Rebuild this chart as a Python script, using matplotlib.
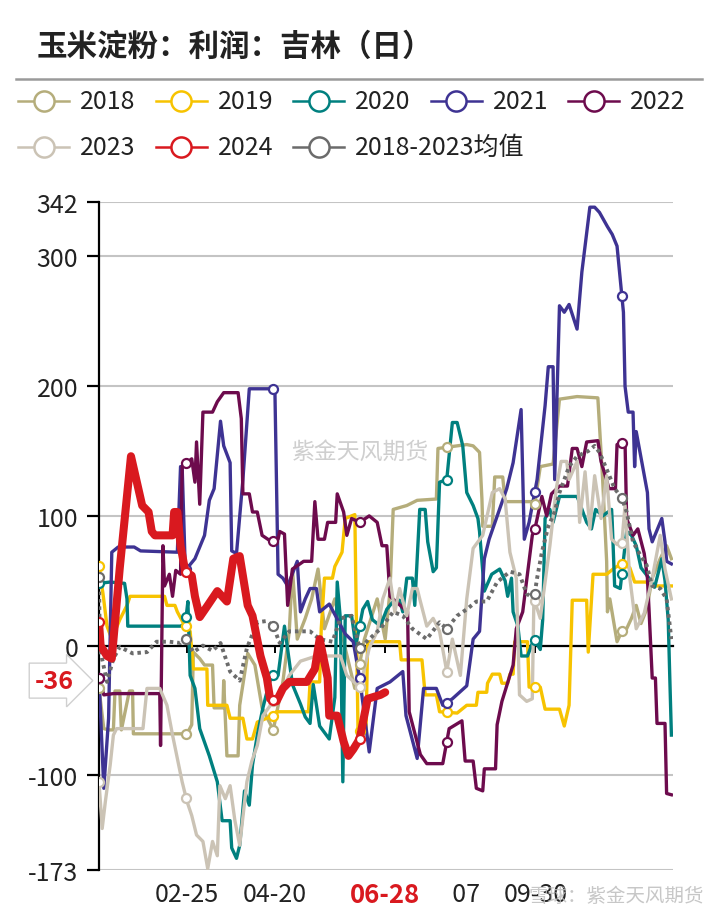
import numpy as np
import matplotlib
matplotlib.use("Agg")
import matplotlib.pyplot as plt
from matplotlib.lines import Line2D
from matplotlib.patches import Rectangle
import matplotlib.transforms as mtransforms

plt.rcParams['font.family'] = ['Noto Sans CJK SC', 'DejaVu Sans']

# days counted from Jan 1 (x axis), values = profit
d2018 = [0, 3, 6, 9, 10, 13, 14, 19, 21, 21.5, 55, 58, 59, 63, 66, 71, 72, 77.5, 78, 80,
         87, 88, 93, 97.5, 102, 109, 115, 119, 121, 124, 129, 133, 137, 141, 147.5, 154, 160, 166, 174, 179,
         182, 184, 192.5, 199, 211, 212, 230, 234, 238, 239.5, 240, 246, 247.5, 252.5, 254, 271, 272.5, 276, 284, 288,
         299, 312, 315, 317.5, 318, 319.5, 324, 327, 330, 333, 336, 339, 342.5, 346, 351, 355, 358]
v2018 = [-33, -64, -65, -65, -35, -35, -65, -35, -35, -68, -68, -61, -5, -10, -15, -15, -48, -48, -27, -85,
         -85, -46, -6, -15, -48, -65, -28, 11, 59, 5, 21, 36, 59, 13, 36, -2, -33, 5, 36, 5,
         42, 105, 108, 112, 113, 152, 155, 154, 149, 113, 92, 92, 130, 130, 111, 111, 109, 138, 140, 190,
         192, 191, 128, 65, 26, 36, 3, 11, 13, 21, 31, 17, 28, 52, 67, 77, 67]

d2019 = [0, 2.5, 5, 8, 13, 17.5, 19.4, 41, 42.5, 47.5, 49, 52.5, 57, 59, 67.5, 68, 80, 82, 90, 92.5,
         96, 99, 109, 111, 131, 132, 138, 139, 141, 146, 147.5, 152, 154, 160, 162, 167, 168, 188, 189, 202,
         204, 211, 213, 224, 230, 236, 237, 242.5, 243, 246, 250.6, 252, 255.6, 257, 259, 260, 268, 269, 276, 279,
         288, 291, 294, 296, 305, 306, 309, 317.5, 322.5, 327, 332, 335, 342.5, 344, 358]
v2019 = [61, 40, 15, 5, 20, 31, 38, 38, 31, 31, 26, 18, 11, -18, -18, -46, -46, -56, -56, -72,
         -72, -59, -54, -51, -51, -28, -28, 13, 52, 52, 61, 72, 98, 101, -66, -66, 3, 3, -11, -11,
         -38, -38, -51, -52, -46, -46, -36, -36, -29, -22, -22, -29, -29, -22, -22, 3, 3, -32, -32, -49,
         -49, -62, -46, 35, 35, -5, 55, 55, 60, 63, 60, 49, 49, 46, 46]

d2020 = [0, 7, 16, 17.5, 18, 51, 54, 55.6, 57, 60, 63, 69, 74, 77, 82, 83, 86, 88, 91, 94,
         96, 99, 102.5, 105.6, 108, 112, 116, 121, 126, 129, 132, 134, 138, 144, 147.5, 149, 151, 152.5, 154, 158,
         160.6, 165, 168, 171, 176, 180, 184, 188, 190, 192.5, 196, 197.5, 200.6, 204, 205.6, 209, 211, 213, 217.5, 221,
         224, 227.5, 230, 234, 237, 238, 241, 245.6, 250.6, 254, 255.6, 258, 259, 262, 264, 268, 272, 276, 277.5, 279,
         282, 284, 288, 299, 300.6, 305, 308, 310.6, 315, 320.6, 321, 322.5, 326, 330, 333, 336, 339, 344, 347.5, 352,
         354, 356, 357, 358]
v2020 = [48, 49, 48, 36, 15, 15, 17, 34, -23, -33, -64, -85, -105, -135, -135, -156, -164, -154, -112, -123,
         -92, -69, -48, -33, -23, -23, 15, -30, -45, -55, -60, -30, -62, -72, -40, 49, 20, -105, 23, 23,
         0, 28, 34, 20, 15, 28, 34, 35, 26, 52, 52, 31, 105, 105, 80, 57, 60, 126, 128, 172,
         172, 154, 118, 108, 98, 88, 42, 55, 59, 50, 38, 52, 26, 15, -8, -8, 5, -3, 20, 98,
         105, 95, 115, 115, 110, 95, 90, 105, 100, 105, 95, 46, 44, 88, 85, 77, 60, 52, 45, 67,
         50, 20, -25, -69]

d2021 = [0, 3, 6, 8, 12, 22, 26, 49, 51, 52, 54, 60, 66, 69, 72, 76, 78, 82, 83, 86,
         90, 94, 110, 112, 115, 118, 124, 126, 129, 132, 136, 138, 144, 154, 159, 163, 169, 174, 182, 190,
         192, 199, 203, 211, 215, 221, 230, 234, 238, 241, 244, 255, 259, 264, 266, 269, 274, 279, 281, 284,
         285, 288, 291, 294, 299, 302, 307, 310, 313, 318, 321, 324, 328, 329, 331, 334, 335, 336, 343, 344,
         346, 352, 354, 355, 358]
v2021 = [-25, -110, -56, 72, 76, 76, 73, 72, 138, 138, 58, 67, 85, 112, 121, 173, 154, 141, 73, 71,
         128, 198, 198, 55, 52, 46, 65, 26, 36, 44, 44, 26, 32, 9, 3, -25, -82, -33, -28, -20,
         -54, -87, -33, -33, -46, -41, -31, 5, 11, 67, 82, 121, 141, 182, 82, 95, 128, 185, 215, 215,
         128, 262, 257, 263, 244, 288, 338, 338, 334, 323, 317, 308, 257, 200, 180, 180, 138, 165, 118, 90,
         80, 98, 80, 65, 63]

d2022 = [0, 3, 9, 38, 38.5, 40, 41, 44, 46, 48, 51, 52, 58, 60, 61, 63, 65, 71, 74, 78,
         87, 89, 90, 94, 96, 99, 102, 108, 112, 113, 116, 118, 121, 128, 133, 135, 137, 141, 143, 148,
         149, 153, 155, 158, 163, 169, 174, 177, 180, 182, 193, 194, 201, 205, 215, 219, 227, 229, 234, 236,
         240, 241, 248, 249, 252, 257, 259, 261, 265, 271, 273, 277, 280, 283, 288, 293, 296, 299, 302, 305,
         312, 314, 319, 323, 324, 329, 330, 334, 337, 341, 343, 344, 346, 348, 349, 354, 355, 358]
v2022 = [-25, -38, -37, -37, -77, 77, 46, 55, 38, 58, 55, 138, 144, 126, 157, 109, 180, 180, 188, 195,
         195, 175, 117, 117, 103, 103, 85, 80, 82, 88, 86, 31, 59, 65, 65, 111, 82, 82, 95, 95,
         117, 103, 85, 98, 95, 100, 95, 77, 77, 38, 26, -51, -84, -91, -91, -64, -58, -89, -89, -110,
         -112, -95, -95, -61, -43, -23, -15, 13, 26, 85, 92, 115, 100, 117, 123, 123, 152, 152, 138, 157,
         158, 142, 121, 121, 155, 157, 98, 85, 90, 71, 52, 28, -25, -25, -60, -60, -114, -115]

d2023 = [0, 2, 4, 7, 9, 11, 27.5, 30, 38, 42.5, 46, 52, 55, 58, 61, 65, 68, 71, 74, 75.6,
         79, 82, 85, 88, 92.5, 95.6, 99, 102.5, 109, 113, 119, 126, 136, 151, 155, 163, 166, 169, 174, 177.5,
         182, 185, 188, 192.5, 196, 199, 200.6, 205, 209, 213, 217.5, 221, 226, 230, 234, 240, 246, 250.6, 254, 257,
         261, 263, 267.5, 271, 272, 276, 282, 286, 289, 292.5, 294, 299, 300.6, 304, 307, 310, 314, 317.5, 320.6, 324,
         327, 329, 332, 336, 341, 346, 351, 354, 358]
v2023 = [-105, -141, -120, -92, -69, -64, -64, -33, -33, -46, -69, -105, -120, -131, -146, -151, -172, -151, -162, -108,
         -118, -108, -135, -154, -105, -89, -77, -54, -43, -38, -23, -12, -8, -8, -23, -32, -18, -2, 11, 36,
         52, 26, 44, 23, 44, 44, 36, 15, 21, 11, -20, 5, -23, 36, 75, 85, 118, 121, 113, 72,
         52, -38, -43, -41, 36, 21, 77, 121, 142, 142, 128, 142, 95, 134, 90, 131, 98, 131, 82, 78,
         79, 108, 52, 13, 25, 52, 85, 59, 36]

d2024 = [0, 1, 5, 8, 13, 20, 27, 31, 33, 35, 46, 47, 49, 51, 54, 58, 60, 63, 68, 74,
         80, 84, 88, 93, 96, 101, 105, 107, 111, 115, 119, 130, 135, 138, 143, 144, 149, 153, 156, 159,
         163, 168, 176, 179]
v2024 = [18, 0, -8, -10, 60, 146, 108, 103, 88, 85, 85, 103, 103, 77, 57, 54, 38, 22, 31, 42,
         34, 67, 69, 31, 23, -8, -25, -41, -43, -33, -28, -28, -18, 5, -25, -54, -54, -74, -85, -80,
         -72, -41, -38, -36]

d_mean = [0, 0.5, 5, 9, 13, 21, 30, 36, 44, 51, 54, 59, 65, 71, 76, 82, 88, 92.5, 99, 105,
          109, 113, 119, 126, 132, 138, 146, 151, 158, 163, 169, 176, 184, 190, 196, 205, 213, 217.5, 224, 230,
          236, 242.5, 249, 257, 263, 267.5, 272, 274, 277, 281, 285, 288, 291, 294, 299, 306, 310, 313, 317.5, 322.5,
          327, 330, 334, 338, 342.5, 346, 351, 355, 358]
v_mean = [53, -2, -28, -10, -1, -6, -5, 3, 3, 2, 6, -5, 0, -4, 2, -20, -27, -2, 18, 19,
          15, 2, 11, 11, 11, 5, 3, 21, 23, -2, 5, 13, 26, 23, 13, 5, 18, 13, 23, 28,
          34, 34, 49, 57, 55, 40, 36, 52, 72, 92, 103, 118, 128, 138, 146, 150, 154, 149, 136, 121,
          114, 103, 80, 71, 62, 46, 44, 36, 5]

labels = ['2018', '2019', '2020', '2021', '2022', '2023', '2024', '2018-2023均值']
colors = ['#b5ad7b', '#f7c300', '#00807f', '#3e3393', '#6d0b4d', '#cbc3b5', '#d9191f', '#6b6b6b']

xtick_days = [55, 110, 179, 219, 273]
xtick_labels = ['02-25', '04-20', '06-28', '08-07', '09-30']
yticks = [-173, -100, 0, 100, 200, 300, 342]
marker_days = [0, 54.5, 109, 163, 217.5, 272.5, 327]

series = [(d2018, v2018), (d2019, v2019), (d2020, v2020), (d2021, v2021), (d2022, v2022),
          (d2023, v2023), (d2024, v2024), (d_mean, v_mean)]

fig = plt.figure(figsize=(7.22, 9.2), dpi=100)
ax = fig.add_axes([99 / 722, 1 - 871 / 920, 574 / 722, 668 / 920])
ax.set_xlim(0, 359)
ax.set_ylim(-173, 342)

draw_order = [0, 1, 2, 3, 4, 5, 7, 6]
for i in draw_order:
    d, v = series[i]
    d = np.array(d, dtype=float)
    v = np.array(v, dtype=float)
    if i == 6:
        ax.plot(d, v, color=colors[i], lw=5.8, solid_capstyle='round', solid_joinstyle='round', zorder=10)
    elif i == 7:
        ax.plot(d, v, color=colors[i], lw=2.8, linestyle=(0, (0.9, 1.0)), dash_capstyle='butt', zorder=8)
    else:
        ax.plot(d, v, color=colors[i], lw=2.4, zorder=3 + i * 0.1)
    md = [m for m in marker_days if m <= d[-1]]
    ax.plot(md, np.interp(md, d, v), linestyle='none', marker='o', ms=6.5, mfc='white',
            mec=colors[i], mew=1.6, zorder=11 if i == 6 else 9)

# axes styling
for s in ['top', 'right']:
    ax.spines[s].set_visible(False)
ax.spines['left'].set_linewidth(1.6)
ax.spines['left'].set_color('black')
ax.spines['bottom'].set_position(('data', 0))
ax.spines['bottom'].set_linewidth(1.6)
ax.spines['bottom'].set_color('black')
ax.spines['bottom'].set_zorder(2.5)

ax.set_yticks(yticks)
ax.set_yticklabels([str(t) for t in yticks], fontsize=18, color='#222222')
ax.tick_params(axis='y', length=9, width=1.6, pad=6)
ax.yaxis.grid(True, color='#c4c4c4', lw=1.5)
ax.set_axisbelow(True)

ax.set_xticks(xtick_days)
ax.set_xticklabels([''] * len(xtick_days))
ax.tick_params(axis='x', length=5, width=1.4, direction='out')

trans = mtransforms.blended_transform_factory(ax.transData, ax.transAxes)
for day, lab in zip(xtick_days, xtick_labels):
    if lab == '06-28':
        continue
    ax.text(day, -0.036, lab, transform=trans, ha='center', va='center', fontsize=18,
            color='#222222', clip_on=False, zorder=5)
ax.add_patch(Rectangle((150, -0.075), 71.5, 0.065, transform=trans, facecolor='white',
                       edgecolor='none', clip_on=False, zorder=6))
ax.text(179, -0.036, '06-28', transform=trans, ha='center', va='center', fontsize=18.5,
        fontweight='bold', color='#d9191f', clip_on=False, zorder=7)

# last value tag for 2024
ytrans = mtransforms.blended_transform_factory(ax.transAxes, ax.transData)
ax.text(-0.078, v2024[-1] + 9, str(v2024[-1]), transform=ytrans, ha='center', va='center',
        fontsize=18, fontweight='bold', color='#d9191f', clip_on=False, zorder=12,
        bbox=dict(boxstyle='rarrow,pad=0.22', facecolor='white', edgecolor='#d0d0d0', lw=1))

# watermarks
ax.text(360 / 722, 1 - 452 / 920, '紫金天风期货', transform=fig.transFigure, ha='center', va='center',
        fontsize=16.5, color='#cfcfcf', zorder=0.5)
fig.text(0.975, 1 - 896 / 920, '雪球：紫金天风期货', ha='right', va='center', fontsize=14,
         color='#bdbdbd', alpha=0.85, zorder=20)

# title and separator
fig.text(37 / 722, 1 - 47 / 920, '玉米淀粉：利润：吉林（日）', fontsize=22, fontweight='bold',
         color='#222222', va='center')
fig.add_artist(Line2D([16 / 722, 702 / 722], [1 - 80 / 920, 1 - 80 / 920], color='#9a9a9a', lw=1.8))

# legend drawn by hand so the rows wrap like the original
for i, lab in enumerate(labels):
    row, col = divmod(i, 5)
    x0 = 18 + col * 137.5
    y = 1 - (102 + row * 46) / 920
    fig.add_artist(Line2D([x0 / 722, (x0 + 51) / 722], [y, y], color=colors[i], lw=1.8))
    fig.add_artist(Line2D([(x0 + 25.5) / 722], [y], marker='o', ms=14.5, mfc='white',
                          mec=colors[i], mew=1.8))
    fig.text((x0 + 62) / 722, y, lab, fontsize=18, va='center', color='#222222')

fig.savefig('out.png', dpi=100)
